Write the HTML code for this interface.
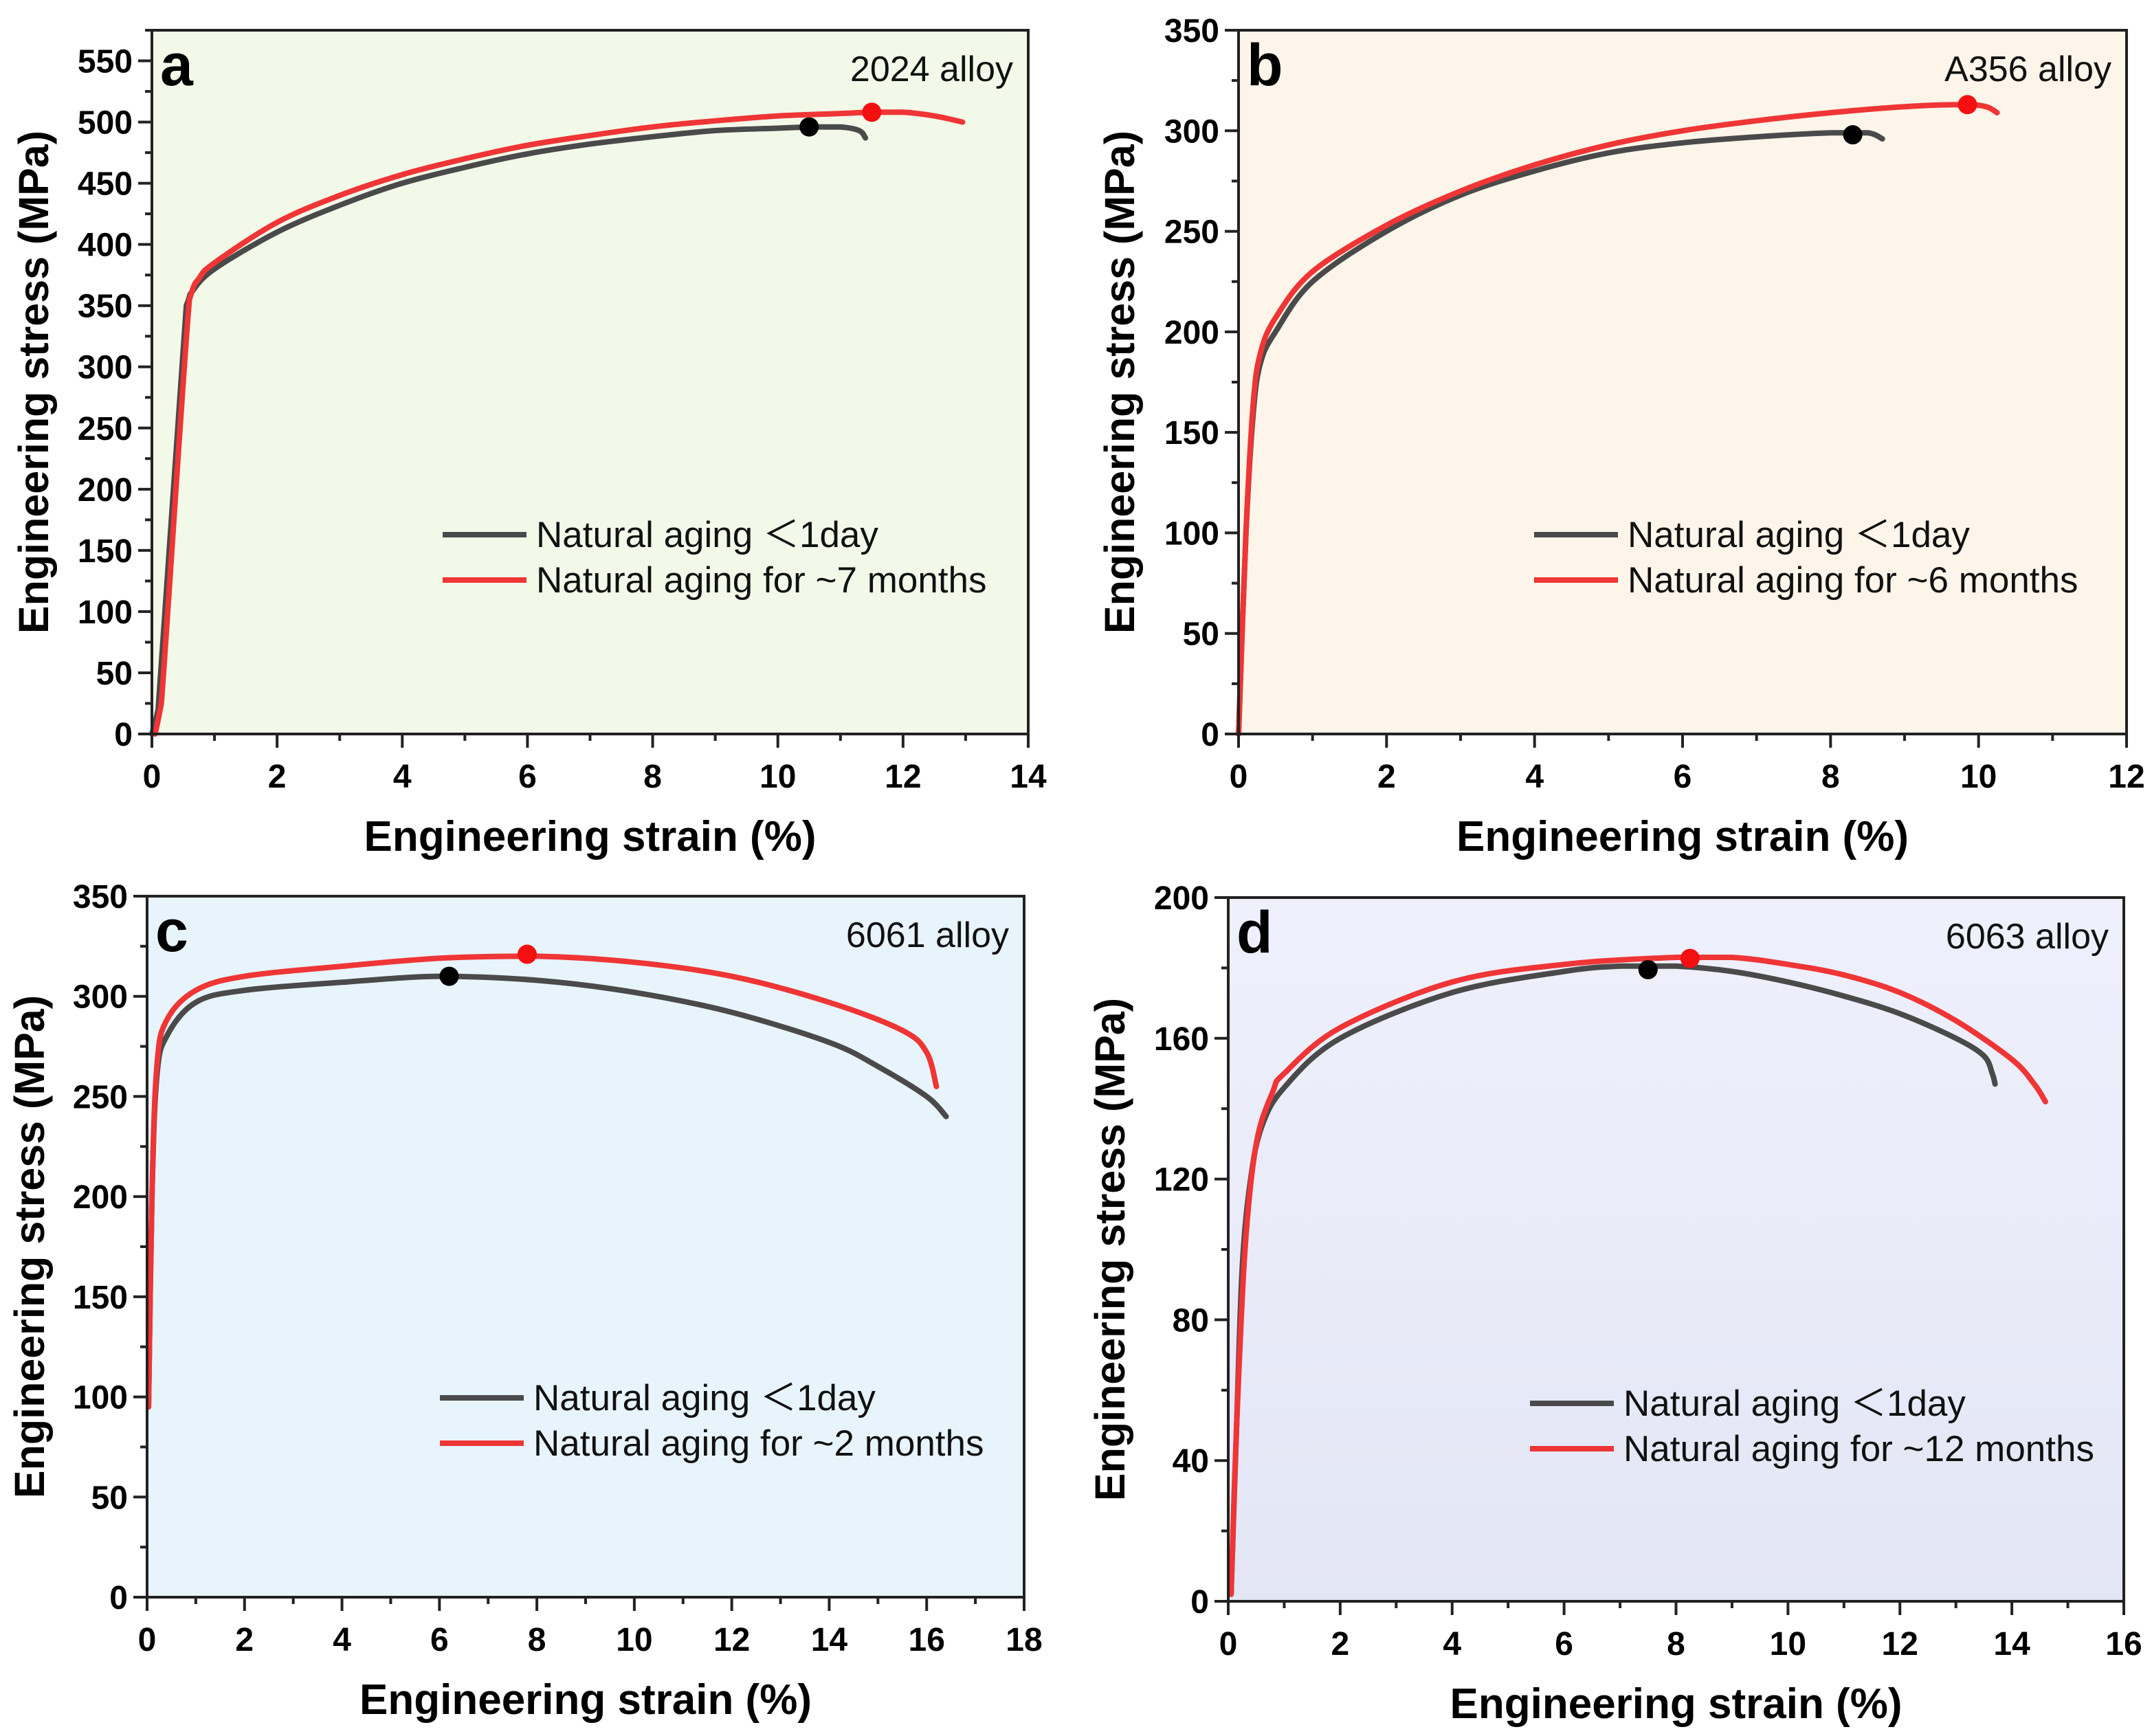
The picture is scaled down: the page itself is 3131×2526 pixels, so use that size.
<!DOCTYPE html>
<html><head><meta charset="utf-8"><style>
html,body{margin:0;padding:0;background:#fff}
svg{display:block}
text{font-family:"Liberation Sans",Arial,sans-serif}
</style></head><body>
<svg id="fig" width="3131" height="2526" viewBox="0 0 3131 2526" xmlns="http://www.w3.org/2000/svg">
<defs>
<linearGradient id="gd" x1="0" y1="0" x2="0" y2="1"><stop offset="0" stop-color="#eff0fc"/><stop offset="1" stop-color="#e3e6f5"/></linearGradient>
</defs>
</svg>
<script>
// Panel a (2024 alloy)
const aBlackX=[0,0.1,0.55,0.65,1,2,3,4,5,6,7,8,9,10,10.5,11,11.3,11.4];
const aBlackY=[0,20,350,362,380,410,432,450,463,474,482,488,493,495,496,496,493,487];
const aRedX=[0.05,0.15,0.6,0.75,1,2,3,4,5,6,7,8,9,10,11,11.5,12,12.5,12.95];
const aRedY=[0,25,355,372,385,418,440,457,470,481,489,496,501,505,507,508,508,505,500];
const aPeakX=[10.5,11.5];const aPeakY=[496,508];
// Panel b (A356 alloy)
const bBlackX=[0,0.1,0.2,0.3,0.5,1,2,3,4,5,6,7,8,8.5,8.7];
const bBlackY=[0,100,160,185,200,225,250,268,280,289,294,297,299,299,296];
const bRedX=[0,0.1,0.2,0.3,0.5,1,2,3,4,5,6,7,8,9,9.8,10.1,10.25];
const bRedY=[0,100,165,190,207,230,253,270,283,293,300,305,309,312,313,312,309];
const bPeakX=[8.3,9.85];const bPeakY=[298,313];
// Panel c (6061 alloy)
const cBlackX=[0.03,0.1,0.2,0.4,1,2,4,6,8,10,12,14,15,16,16.4];
const cBlackY=[95,200,260,280,297,303,307,310,308,302,292,277,265,250,240];
const cRedX=[0.03,0.1,0.2,0.4,1,2,4,6,8,10,12,14,15.5,16,16.2];
const cRedY=[95,200,265,288,303,310,315,319,320,317,310,297,283,272,255];
const cPeakX=[6.2,7.8];const cPeakY=[310,321];
// Panel d (6063 alloy)
const dBlackX=[0.05,0.15,0.25,0.4,0.6,1,2,4,6,7,8,9,10,11,12,13,13.5,13.65,13.7];
const dBlackY=[2,50,95,120,135,146,160,173,179,180.5,180.5,179,176,172,167,160,155,150,147];
const dRedX=[0.05,0.15,0.3,0.5,0.8,1,2,4,6,8,9,10,11,12,13,14,14.4,14.6];
const dRedY=[2,50,100,130,145,150,163,176,181,183,183,181,178,173,165,154,147,142];
const dPeakX=[7.5,8.25];const dPeakY=[179.5,182.7];

const svg=document.getElementById('fig');
const NS='http://www.w3.org/2000/svg';
function mk(tag,attrs,parent){const e=document.createElementNS(NS,tag);for(const k in attrs)e.setAttribute(k,attrs[k]);(parent||svg).appendChild(e);return e;}
function clamp(v,a,b){const lo=Math.min(a,b),hi=Math.max(a,b);return Math.max(lo,Math.min(hi,v));}
function smooth(pts){
  let d='M'+pts[0][0].toFixed(1)+' '+pts[0][1].toFixed(1);
  for(let i=0;i<pts.length-1;i++){
    const p0=pts[Math.max(0,i-1)],p1=pts[i],p2=pts[i+1],p3=pts[Math.min(pts.length-1,i+2)];
    const t=1/6;
    const c1=[clamp(p1[0]+(p2[0]-p0[0])*t,p1[0],p2[0]),clamp(p1[1]+(p2[1]-p0[1])*t,p1[1],p2[1])];
    const c2=[clamp(p2[0]-(p3[0]-p1[0])*t,p1[0],p2[0]),clamp(p2[1]-(p3[1]-p1[1])*t,p1[1],p2[1])];
    d+='C'+c1[0].toFixed(1)+' '+c1[1].toFixed(1)+' '+c2[0].toFixed(1)+' '+c2[1].toFixed(1)+' '+p2[0].toFixed(1)+' '+p2[1].toFixed(1);
  }
  return d;
}

function panel(p){
  const g=mk('g',{});
  
  
  const sx=v=>p.L+v/p.xmax*(p.R-p.L);
  const sy=v=>p.B-v/p.ymax*(p.B-p.T);
  const bg=mk('rect',{x:p.L,y:p.T,width:p.R-p.L,height:p.B-p.T,fill:p.bg},g);
  
  
  const series=[[p.bx,p.by,'#4a4a4a','black'],[p.rx,p.ry,'#ef3535','red']];
  for(const s of series){
    const pts=s[0].map((x,i)=>[sx(x),sy(s[1][i])]);
    const path=mk('path',{d:smooth(pts),fill:'none',stroke:s[2],'stroke-width':8,'stroke-linejoin':'round','stroke-linecap':'round'},g);
    
    
  }
  const cols=['#000','#f41010'];
  for(let i=0;i<2;i++){
    const c=mk('circle',{cx:sx(p.px[i]),cy:sy(p.py[i]),r:14,fill:cols[i]},g);
    
    
  }
  mk('rect',{x:p.L,y:p.T,width:p.R-p.L,height:p.B-p.T,fill:'none',stroke:'#222','stroke-width':4},g);
  for(let v=0;v<=p.xmax+1e-9;v+=p.xstep/2){
    const major=Math.abs(v/p.xstep-Math.round(v/p.xstep))<1e-6;
    const x=sx(v);
    mk('line',{x1:x,y1:p.B,x2:x,y2:p.B+(major?20:10),stroke:'#222','stroke-width':4},g);
    if(major){
      const t=mk('text',{x:x,y:p.B+78,'font-size':48,'font-weight':'bold','text-anchor':'middle',fill:'#000'},g);
      t.textContent=String(Math.round(v));
      
      
    }
  }
  for(let v=0;v<=p.ymax+1e-9;v+=p.ystep/2){
    const major=Math.abs(v/p.ystep-Math.round(v/p.ystep))<1e-6;
    const y=sy(v);
    mk('line',{x1:p.L,y1:y,x2:p.L-(major?20:10),y2:y,stroke:'#222','stroke-width':4},g);
    if(major && v<=p.ylabmax){
      const t=mk('text',{x:p.L-28,y:y+17,'font-size':48,'font-weight':'bold','text-anchor':'end',fill:'#000'},g);
      t.textContent=String(Math.round(v));
      
      
    }
  }
  const xt=mk('text',{x:(p.L+p.R)/2,y:p.B+170,'font-size':62,'font-weight':'bold','text-anchor':'middle',fill:'#000'},g);
  xt.textContent='Engineering strain (%)';
  
  
  const ycx=p.ytx, ycy=(p.T+p.B)/2;
  const yt=mk('text',{x:ycx,y:ycy,'font-size':61,'font-weight':'bold','text-anchor':'middle',fill:'#000',transform:'rotate(-90 '+ycx+' '+ycy+')'},g);
  yt.textContent='Engineering stress (MPa)';
  
  
  const lt=mk('text',{x:p.L+12,y:p.T+80,'font-size':86,'font-weight':'bold',fill:'#000'},g);
  lt.textContent=p.id;
  
  
  const al=mk('text',{x:p.R-22,y:p.T+74,'font-size':52,'text-anchor':'end',fill:'#111'},g);
  al.textContent=p.alloy;
  
  
  const names=['Natural aging \uFF1C1day',p.redLabel];
  const lc=['#4a4a4a','#ef3535'];
  for(let i=0;i<2;i++){
    const y=p.legY+i*66;
    mk('line',{x1:p.legX,y1:y,x2:p.legX+122,y2:y,stroke:lc[i],'stroke-width':8},g);
    const t=mk('text',{x:p.legX+136,y:y+18,'font-size':53,fill:'#111'},g);
    t.textContent=names[i];
    
    
  }
}
panel({id:'a',L:221,R:1496,B:1068,T:44,xmax:14,xstep:2,ymax:575,ystep:50,ylabmax:550,bg:'#f3f9e9',bx:aBlackX,by:aBlackY,rx:aRedX,ry:aRedY,px:aPeakX,py:aPeakY,alloy:'2024 alloy',redLabel:'Natural aging for ~7 months',legX:644,legY:778,ytx:70});
panel({id:'b',L:1802,R:3094,B:1068,T:44,xmax:12,xstep:2,ymax:350,ystep:50,ylabmax:350,bg:'#fdf5e9',bx:bBlackX,by:bBlackY,rx:bRedX,ry:bRedY,px:bPeakX,py:bPeakY,alloy:'A356 alloy',redLabel:'Natural aging for ~6 months',legX:2232,legY:778,ytx:1650});
panel({id:'c',L:214,R:1490,B:2324,T:1304,xmax:18,xstep:2,ymax:350,ystep:50,ylabmax:350,bg:'#e8f4fc',bx:cBlackX,by:cBlackY,rx:cRedX,ry:cRedY,px:cPeakX,py:cPeakY,alloy:'6061 alloy',redLabel:'Natural aging for ~2 months',legX:640,legY:2034,ytx:64});
panel({id:'d',L:1787,R:3090,B:2330,T:1306,xmax:16,xstep:2,ymax:200,ystep:40,ylabmax:200,bg:'url(#gd)',bx:dBlackX,by:dBlackY,rx:dRedX,ry:dRedY,px:dPeakX,py:dPeakY,alloy:'6063 alloy',redLabel:'Natural aging for ~12 months',legX:2226,legY:2042,ytx:1636});
</script>
</body></html>
